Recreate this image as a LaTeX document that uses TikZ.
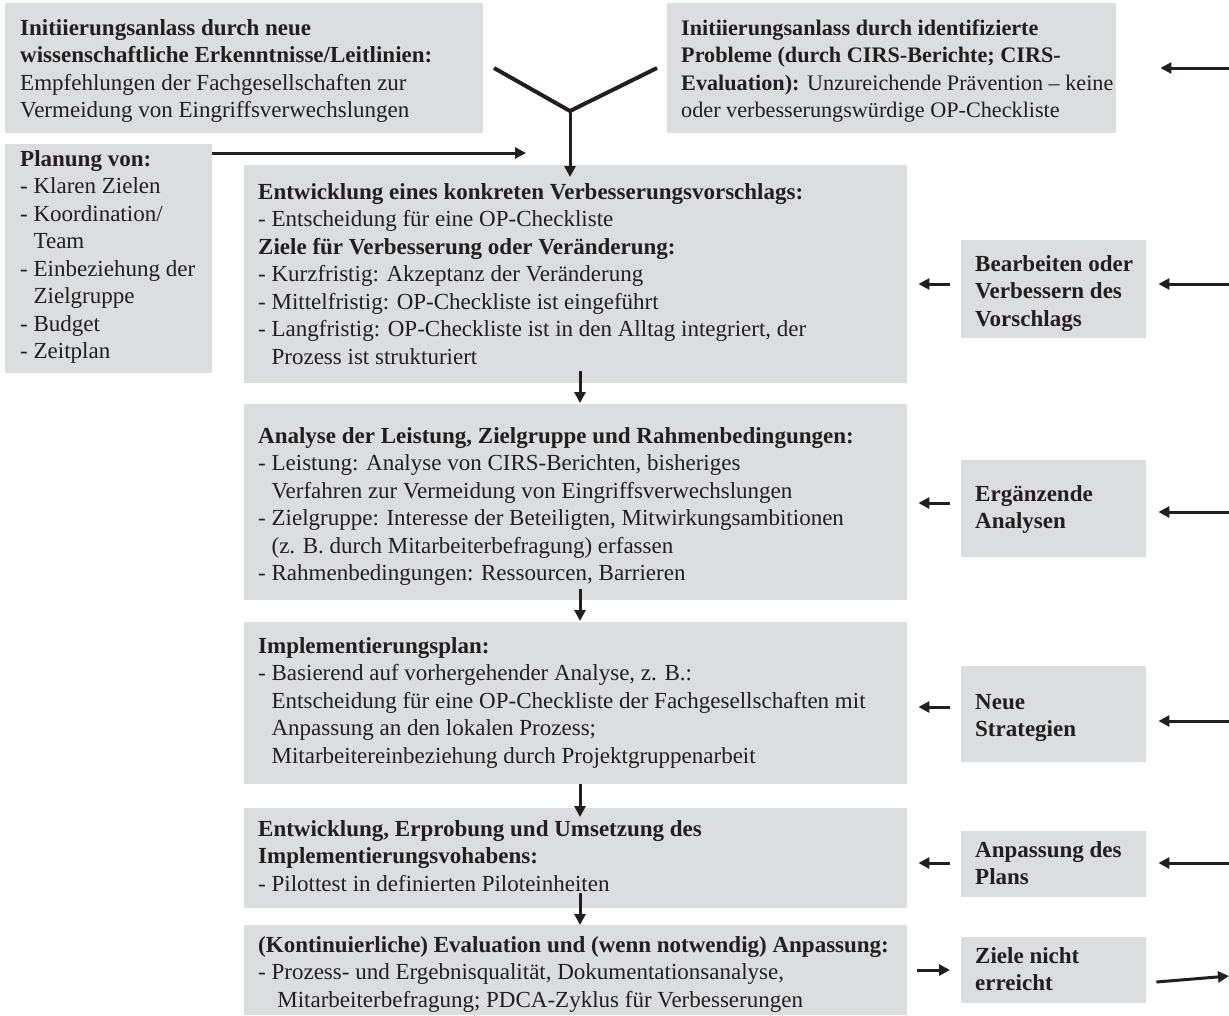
\documentclass[tikz,border=0pt]{standalone}
\usepackage{fontspec}
\setmainfont{Liberation Serif}
\usetikzlibrary{arrows.meta}
\definecolor{boxgray}{HTML}{DCDDDE}
\definecolor{ink}{HTML}{231F20}
\newcommand{\ind}{\hphantom{- }}
\tikzset{
  panel/.style={fill=boxgray, draw=none, anchor=north west, inner sep=0pt},
  txt/.style={anchor=north west, inner sep=0pt, align=left, text=ink,
    font=\fontsize{23}{27.5}\selectfont},
  stxt/.style={txt, font=\fontsize{22.2}{27.5}\selectfont},
  arr/.style={draw=ink, line width=3pt, -{Triangle[length=11pt,width=11pt]}},
  yline/.style={draw=ink, line width=4pt},
}
\begin{document}
\begin{tikzpicture}[x=1pt, y=-1pt]
\useasboundingbox (0,0) rectangle (1229,1015);

% ---- boxes ----
\node[panel, minimum width=478pt, minimum height=130pt] (tl) at (5,3) {};
\node[panel, minimum width=449pt, minimum height=130pt] (tr) at (667,3) {};
\node[panel, minimum width=207pt, minimum height=229pt] (plan) at (5,144) {};
\node[panel, minimum width=663pt, minimum height=218pt] (b1) at (244,165) {};
\node[panel, minimum width=663pt, minimum height=196pt] (b2) at (244,404) {};
\node[panel, minimum width=663pt, minimum height=162pt] (b3) at (244,622) {};
\node[panel, minimum width=663pt, minimum height=100pt] (b4) at (244,808) {};
\node[panel, minimum width=663pt, minimum height=90pt]  (b5) at (244,925) {};
\node[panel, minimum width=185pt, minimum height=98pt] (r1) at (961,240) {};
\node[panel, minimum width=185pt, minimum height=97pt] (r2) at (961,460) {};
\node[panel, minimum width=185pt, minimum height=96pt] (r3) at (961,666) {};
\node[panel, minimum width=185pt, minimum height=66pt] (r4) at (961,831) {};
\node[panel, minimum width=185pt, minimum height=66pt] (r5) at (961,937) {};

% ---- texts ----
\node[txt] (ttl) at (20,16) {\strut\textbf{Initiierungsanlass durch neue}\\
\textbf{wissenschaftliche Erkenntnisse/Leitlinien:}\\
Empfehlungen der Fachgesellschaften zur\\
Vermeidung von Eingriffsverwechslungen};

\node[stxt] (ttr) at (681,16) {\strut\textbf{Initiierungsanlass durch identifizierte}\\
\textbf{Probleme (durch CIRS-Berichte; CIRS-}\\
\textbf{Evaluation):} Unzureichende Prävention – keine\\
oder verbesserungswürdige OP-Checkliste};

\node[txt] (tplan) at (20,147) {\strut\textbf{Planung von:}\\
- Klaren Zielen\\
- Koordination/\\
\ind Team\\
- Einbeziehung der\\
\ind Zielgruppe\\
- Budget\\
- Zeitplan};

\node[txt] (tb1) at (258,180) {\strut\textbf{Entwicklung eines konkreten Verbesserungsvorschlags:}\\
- Entscheidung für eine OP-Checkliste\\
\textbf{Ziele für Verbesserung oder Veränderung:}\\
- Kurzfristig: Akzeptanz der Veränderung\\
- Mittelfristig: OP-Checkliste ist eingeführt\\
- Langfristig: OP-Checkliste ist in den Alltag integriert, der\\
\ind Prozess ist strukturiert};

\node[txt] (tb2) at (258,424) {\strut\textbf{Analyse der Leistung, Zielgruppe und Rahmenbedingungen:}\\
- Leistung: Analyse von CIRS-Berichten, bisheriges\\
\ind Verfahren zur Vermeidung von Eingriffsverwechslungen\\
- Zielgruppe: Interesse der Beteiligten, Mitwirkungsambitionen\\
\ind (z. B. durch Mitarbeiterbefragung) erfassen\\
- Rahmenbedingungen: Ressourcen, Barrieren};

\node[txt] (tb3) at (258,634) {\strut\textbf{Implementierungsplan:}\\
- Basierend auf vorhergehender Analyse, z. B.:\\
\ind Entscheidung für eine OP-Checkliste der Fachgesellschaften mit\\
\ind Anpassung an den lokalen Prozess;\\
\ind Mitarbeitereinbeziehung durch Projektgruppenarbeit};

\node[txt] (tb4) at (258,817) {\strut\textbf{Entwicklung, Erprobung und Umsetzung des}\\
\textbf{Implementierungsvohabens:}\\
- Pilottest in definierten Piloteinheiten};

\node[txt] (tb5) at (258,933) {\strut\textbf{(Kontinuierliche) Evaluation und (wenn notwendig) Anpassung:}\\
- Prozess- und Ergebnisqualität, Dokumentationsanalyse,\\
\ind\ Mitarbeiterbefragung; PDCA-Zyklus für Verbesserungen};

\node[txt] (tr1) at (975,252) {\strut\textbf{Bearbeiten oder}\\ \textbf{Verbessern des}\\ \textbf{Vorschlags}};
\node[txt] (tr2) at (975,482) {\strut\textbf{Ergänzende}\\ \textbf{Analysen}};
\node[txt] (tr3) at (975,690) {\strut\textbf{Neue}\\ \textbf{Strategien}};
\node[txt] (tr4) at (975,838) {\strut\textbf{Anpassung des}\\ \textbf{Plans}};
\node[txt] (tr5) at (975,944) {\strut\textbf{Ziele nicht}\\ \textbf{erreicht}};

% ---- merging of the two initiating events ----
\coordinate (ya) at (494,68);
\coordinate (yb) at (657,68);
\coordinate (yj) at (570,111);
\draw[yline, line join=miter] (ya) -- (yj) -- (yb);
\draw[arr] ([yshift=2pt]yj) -- ([yshift=-12pt]b1.north -| yj);

% ---- planning feeds into the development step ----
\coordinate (pend) at (526,153);
\draw[arr] (plan.east |- pend) -- (pend);

% ---- main sequence ----
\coordinate (ax) at (580,0);
\draw[arr] ([yshift=12pt]b1.south -| ax) -- ([yshift=1pt]b2.north -| ax);
\draw[arr] ([yshift=11pt]b2.south -| ax) -- ([yshift=1pt]b3.north -| ax);
\draw[arr] (b3.south -| ax) -- ([yshift=-9pt]b4.north -| ax);
\draw[arr] ([yshift=15pt]b4.south -| ax) -- (b5.north -| ax);

% ---- feedback arrows from the right ----
\coordinate (e0) at (1229,68);
\draw[arr] (e0) -- ([xshift=44pt]tr.east |- e0);

\coordinate (s1) at (0,284);  \coordinate (e1) at (1229,284);
\coordinate (s2) at (0,503);  \coordinate (e2) at (1229,512);
\coordinate (s3) at (0,707);  \coordinate (e3) at (1229,721);
\coordinate (s4) at (0,863);  \coordinate (e4) at (1229,863);
\draw[arr] ([xshift=-11pt]r1.west |- s1) -- ([xshift=11pt]b1.east |- s1);
\draw[arr] ([xshift=-11pt]r2.west |- s2) -- ([xshift=11pt]b2.east |- s2);
\draw[arr] ([xshift=-11pt]r3.west |- s3) -- ([xshift=11pt]b3.east |- s3);
\draw[arr] ([xshift=-11pt]r4.west |- s4) -- ([xshift=11pt]b4.east |- s4);
\draw[arr] (e1) -- ([xshift=12pt]r1.east |- e1);
\draw[arr] (e2) -- ([xshift=12pt]r2.east |- e2);
\draw[arr] (e3) -- ([xshift=12pt]r3.east |- e3);
\draw[arr] (e4) -- ([xshift=12pt]r4.east |- e4);

% ---- evaluation outcome ----
\coordinate (s5) at (0,970);
\coordinate (e5) at (1229,976);
\coordinate (s5b) at (0,982);
\draw[arr] ([xshift=10pt]b5.east |- s5) -- ([xshift=-11pt]r5.west |- s5);
\draw[arr] ([xshift=10pt]r5.east |- s5b) -- (e5);
\end{tikzpicture}
\end{document}
